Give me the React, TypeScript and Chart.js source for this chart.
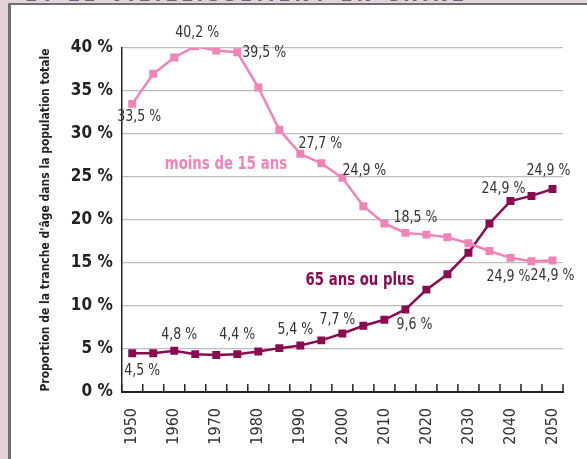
import React, { useEffect, useRef } from "react";
import { Chart, registerables } from "chart.js";

Chart.register(...registerables);

const years = [
  "1950", "1955", "1960", "1965", "1970", "1975", "1980", "1985", "1990", "1995", "2000",
  "2005", "2010", "2015", "2020", "2025", "2030", "2035", "2040", "2045", "2050",
];

const moins15 = [
  33.5, 37.0, 38.9, 40.2, 39.7, 39.5, 35.4, 30.5, 27.7, 26.6, 24.9,
  21.6, 19.6, 18.5, 18.3, 18.0, 17.3, 16.4, 15.6, 15.2, 15.3,
];

const plus65 = [
  4.5, 4.5, 4.8, 4.4, 4.3, 4.4, 4.7, 5.1, 5.4, 6.0, 6.8,
  7.7, 8.4, 9.6, 11.9, 13.7, 16.2, 19.6, 22.2, 22.8, 23.6,
];

const yTicks = [0, 5, 10, 15, 20, 25, 30, 35, 40];

// value labels: dataset, point index, text, offset from point (layout)
const valueLabels = [
  { ds: 0, i: 0, text: "33,5 %", dx: 7, dy: 13 },
  { ds: 0, i: 3, text: "40,2 %", dx: 2, dy: -13 },
  { ds: 0, i: 5, text: "39,5 %", dx: 27, dy: 1 },
  { ds: 0, i: 8, text: "27,7 %", dx: 20, dy: -10 },
  { ds: 0, i: 10, text: "24,9 %", dx: 22, dy: -7 },
  { ds: 0, i: 13, text: "18,5 %", dx: 10, dy: -15 },
  { ds: 0, i: 18, text: "24,9 %", dx: -2, dy: 19 },
  { ds: 0, i: 20, text: "24,9 %", dx: 0, dy: 16 },
  { ds: 1, i: 0, text: "4,5 %", dx: 10, dy: 18 },
  { ds: 1, i: 2, text: "4,8 %", dx: 5, dy: -16 },
  { ds: 1, i: 5, text: "4,4 %", dx: 0, dy: -19 },
  { ds: 1, i: 8, text: "5,4 %", dx: -5, dy: -15 },
  { ds: 1, i: 10, text: "7,7 %", dx: -5, dy: -13 },
  { ds: 1, i: 13, text: "9,6 %", dx: 9, dy: 16 },
  { ds: 1, i: 18, text: "24,9 %", dx: -7, dy: -12 },
  { ds: 1, i: 20, text: "24,9 %", dx: -4, dy: -18 },
];

const seriesNames = [
  { text: "moins de 15 ans", x: 4.46, y: 26.5 },
  { text: "65 ans ou plus", x: 10.84, y: 13.0 },
];

const PINK = "#f183b6";
const DARK = "#8a0b52";
const FONT = '"Liberation Sans Narrow", "DejaVu Sans Condensed", "Roboto", sans-serif';

function drawSquashed(ctx: any, text: string, x: number, y: number, sx: number) {
  ctx.save();
  ctx.translate(x, y);
  ctx.scale(sx, 1);
  ctx.fillText(text, 0, 0);
  ctx.restore();
}

const labelsPlugin = {
  id: "valueLabels",
  afterDatasetsDraw(chart: any) {
    const ctx = chart.ctx;
    const xs = chart.scales.x;
    const ys = chart.scales.y;
    ctx.save();
    // inward tick marks on x axis at category boundaries
    ctx.strokeStyle = "#222";
    ctx.lineWidth = 1.5;
    const n = years.length;
    for (let k = 0; k <= n; k++) {
      const px = xs.getPixelForValue(k - 0.5);
      ctx.beginPath();
      ctx.moveTo(px, ys.bottom);
      ctx.lineTo(px, ys.bottom - 8);
      ctx.stroke();
    }
    ctx.font = `15px ${FONT}`;
    ctx.fillStyle = "#333";
    ctx.textAlign = "center";
    ctx.textBaseline = "middle";
    valueLabels.forEach((l) => {
      const pt = chart.getDatasetMeta(l.ds).data[l.i];
      drawSquashed(ctx, l.text, pt.x + l.dx, pt.y + l.dy, 0.93);
    });
    ctx.font = `bold 17px ${FONT}`;
    seriesNames.forEach((s, k) => {
      ctx.fillStyle = k === 0 ? PINK : DARK;
      drawSquashed(ctx, s.text, xs.getPixelForValue(s.x), ys.getPixelForValue(s.y), 0.87);
    });
    ctx.restore();
  },
};

export default function App() {
  const ref = useRef<HTMLCanvasElement>(null);
  useEffect(() => {
    if (!ref.current) return;
    const chart = new Chart(ref.current, {
      type: "line",
      data: {
        labels: years,
        datasets: [
          {
            label: "moins de 15 ans",
            data: moins15,
            borderColor: PINK,
            backgroundColor: PINK,
            borderWidth: 2.5,
            pointStyle: "rect",
            pointRadius: 5.6,
            pointBorderWidth: 0,
            tension: 0,
          },
          {
            label: "65 ans ou plus",
            data: plus65,
            borderColor: DARK,
            backgroundColor: DARK,
            borderWidth: 2.5,
            pointStyle: "rect",
            pointRadius: 5.6,
            pointBorderWidth: 0,
            tension: 0,
          },
        ],
      },
      options: {
        animation: false,
        responsive: false,
        layout: { padding: { left: 12, right: 24, top: 48, bottom: 0 } },
        plugins: { legend: { display: false }, tooltip: { enabled: false } },
        scales: {
          x: {
            type: "category",
            offset: true,
            grid: { display: false, offset: true },
            border: { display: true, color: "#222", width: 2 },
            ticks: {
              autoSkip: false,
              maxRotation: 90,
              minRotation: 90,
              padding: 8,
              color: "#333",
              font: { family: FONT, size: 16 },
              callback: (_v: any, i: number) => (i % 2 === 0 ? years[i] : ""),
            },
            afterFit: (s: any) => {
              s.height = 67;
            },
          },
          y: {
            min: 0,
            max: 40,
            afterBuildTicks: (s: any) => {
              s.ticks = yTicks.map((v) => ({ value: v }));
            },
            grid: {
              color: (c: any) => (c.tick && c.tick.value === 0 ? "rgba(0,0,0,0)" : "#bdbdbd"),
              lineWidth: 1.2,
              drawTicks: false,
            },
            border: { display: true, color: "#222", width: 1.5 },
            ticks: {
              padding: 9,
              color: "#222",
              font: { family: FONT, size: 17, weight: "bold" },
              callback: (v: any) => `${v} %`,
            },
            title: {
              display: true,
              text: "Proportion de la tranche d'âge dans la population totale",
              color: "#222",
              font: { family: FONT, size: 12, weight: "bold" },
              padding: { top: 27, bottom: 0 },
            },
            afterFit: (s: any) => {
              s.width = 109.7;
            },
          },
        },
      },
      plugins: [labelsPlugin],
    });
    return () => chart.destroy();
  }, []);

  return (
    <div style={{ position: "absolute", left: 0, top: 0, width: 587, height: 459, background: "#e4d3db", overflow: "hidden" }}>
      <div
        style={{
          position: "absolute",
          left: 25,
          top: -16,
          fontFamily: FONT,
          fontWeight: "bold",
          fontSize: 20,
          lineHeight: "20px",
          letterSpacing: 4,
          color: "#6a6a6a",
          whiteSpace: "nowrap",
        }}
      >
        ET LE VIEILLISSEMENT EN CHINE
      </div>
      <div
        style={{
          position: "absolute",
          left: 8,
          top: 3,
          right: 0,
          bottom: 0,
          background: "#fff",
          borderLeft: "3px solid #707070",
          borderTop: "2px solid #707070",
        }}
      />
      <canvas ref={ref} width={587} height={459} style={{ position: "absolute", left: 0, top: 0, width: 587, height: 459 }} />
    </div>
  );
}
